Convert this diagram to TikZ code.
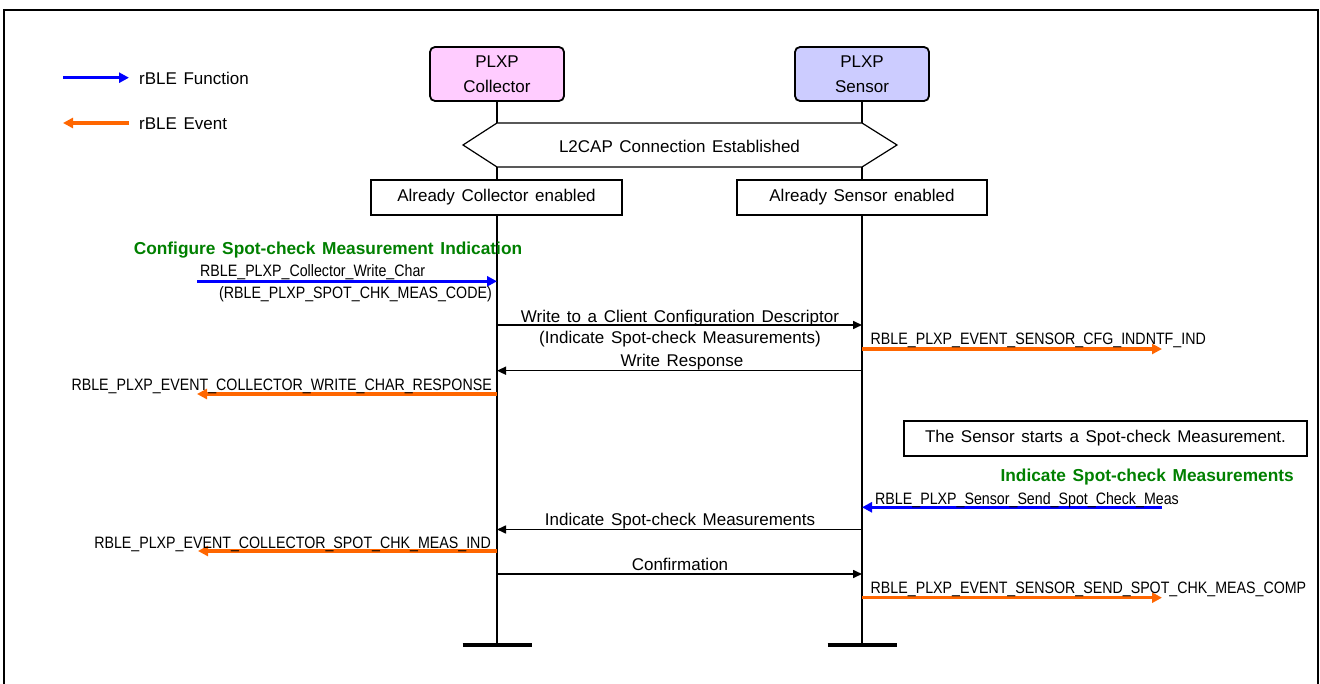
\documentclass[tikz,border=0pt]{standalone}
\usepackage{fontspec}
\setmainfont{Liberation Sans}[WordSpace=1.4]
\newfontfamily\narrowfont{Liberation Sans}[FakeStretch=0.862]
\usetikzlibrary{arrows.meta}
\definecolor{fnblue}{RGB}{0,0,255}
\definecolor{evorange}{RGB}{255,102,0}
\definecolor{titlegreen}{RGB}{0,128,0}
\definecolor{colfill}{RGB}{255,204,255}
\definecolor{senfill}{RGB}{204,204,255}
\begin{document}
\begin{tikzpicture}[x=1pt,y=-1pt,
  every node/.style={inner sep=0pt, font=\fontsize{17}{20}\selectfont},
  txt/.style={font=\fontsize{17}{20}\selectfont},
  lbl/.style={font=\narrowfont\fontsize{16.5}{19}\selectfont},
  title/.style={font=\bfseries\fontsize{17.3}{20}\selectfont, text=titlegreen},
  hdr/.style={draw, line width=1.8pt, rounded corners=5pt, minimum width=134pt,
    minimum height=54pt, align=center, font=\fontsize{17}{25.5}\selectfont},
  note/.style={draw, fill=white, line width=1.2pt, minimum height=35pt},
  lifeline/.style={line width=2.8pt},
  endbar/.style={line width=3.5pt},
  msg/.style={line width=1.6pt, -{Triangle[length=9pt,width=8pt]}},
  fn/.style={draw=fnblue, line width=3.2pt, -{Triangle[length=10pt,width=10pt]}},
  ev/.style={draw=evorange, line width=3.2pt, -{Triangle[length=10pt,width=10pt]}}]
\useasboundingbox (0,0) rectangle (1320,684);

% outer frame
\draw[line width=2pt] (4,690) -- (4,10) -- (1318,10) -- (1318,690);

% legend
\coordinate (lfa) at (63,77.7);
\coordinate (lfb) at (129,77.7);
\coordinate (lea) at (129,123);
\coordinate (leb) at (63,123);
\draw[fn] (lfa) -- (lfb);
\draw[ev] (lea) -- (leb);
\node[txt, anchor=base west] (lgfn) at (139,84.3) {rBLE Function};
\node[txt, anchor=base west] (lgev) at (139,129.3) {rBLE Event};

% participants
\node[hdr, fill=colfill] (col) at (497,74) {PLXP\\Collector};
\node[hdr, fill=senfill] (sen) at (862,74) {PLXP\\Sensor};
\coordinate (colend) at (497,645);
\coordinate (senend) at (862,645);
\draw[lifeline] (col.south) -- (colend);
\draw[lifeline] (sen.south) -- (senend);
\draw[endbar] ([xshift=-34.5pt]colend) -- ([xshift=34.5pt]colend);
\draw[endbar] ([xshift=-34.5pt]senend) -- ([xshift=34.5pt]senend);

% connection established
\draw[line width=1.2pt, fill=white] (463,145) -- (497,123) -- (862,123) -- (897,145)
  -- (862,167) -- (497,167) -- cycle;
\node[txt, anchor=base] (conn) at (679.5,152.3) {L2CAP Connection Established};

% initial states
\node[note, minimum width=251pt] (colok) at (496.5,197.5) {Already Collector enabled};
\node[note, minimum width=250pt] (senok) at (862,197.5) {Already Sensor enabled};

% configure indication
\node[title, anchor=base] (t1) at (328,255) {Configure Spot-check Measurement Indication};
\coordinate (f1a) at (197,281.3);
\coordinate (f1b) at (497,281.3);
\draw[fn] (f1a) -- (f1b);
\node[lbl, anchor=base west] (f1l) at (200,277) {RBLE\_PLXP\_Collector\_Write\_Char};
\node[lbl, anchor=base east] (f1p) at (492,299) {(RBLE\_PLXP\_SPOT\_CHK\_MEAS\_CODE)};

\coordinate (m1a) at (497,325);
\coordinate (m1b) at (862,325);
\draw[msg] (m1a) -- (m1b);
\node[txt, anchor=base] (m1l) at (680,322.3) {Write to a Client Configuration Descriptor};
\node[txt, anchor=base] (m1p) at (680,344) {(Indicate Spot-check Measurements)};

\coordinate (e1a) at (862,349);
\coordinate (e1b) at (1162,349);
\draw[ev] (e1a) -- (e1b);
\node[lbl, anchor=base west] (e1l) at (870.5,344.3) {RBLE\_PLXP\_EVENT\_SENSOR\_CFG\_INDNTF\_IND};

\coordinate (m2a) at (862,370.7);
\coordinate (m2b) at (497,370.7);
\draw[msg] (m2a) -- (m2b);
\node[txt, anchor=base] (m2l) at (682,366.7) {Write Response};

\coordinate (e2a) at (497,394);
\coordinate (e2b) at (197,394);
\draw[ev] (e2a) -- (e2b);
\node[lbl, anchor=base east] (e2l) at (492,390.7) {RBLE\_PLXP\_EVENT\_COLLECTOR\_WRITE\_CHAR\_RESPONSE};

% spot-check measurement
\node[note, minimum width=403pt] (start) at (1105.5,438.5) {The Sensor starts a Spot-check Measurement.};
\node[title, anchor=base east] (t2) at (1294,481) {Indicate Spot-check Measurements};

\coordinate (f2a) at (1162,507.3);
\coordinate (f2b) at (862,507.3);
\draw[fn] (f2a) -- (f2b);
\node[lbl, anchor=base west] (f2l) at (875,504) {RBLE\_PLXP\_Sensor\_Send\_Spot\_Check\_Meas};

\coordinate (m3a) at (862,529.5);
\coordinate (m3b) at (497,529.5);
\draw[msg] (m3a) -- (m3b);
\node[txt, anchor=base] (m3l) at (680,525.5) {Indicate Spot-check Measurements};

\coordinate (e3a) at (497,551);
\coordinate (e3b) at (198,551);
\draw[ev] (e3a) -- (e3b);
\node[lbl, anchor=base east] (e3l) at (491,548.3) {RBLE\_PLXP\_EVENT\_COLLECTOR\_SPOT\_CHK\_MEAS\_IND};

\coordinate (m4a) at (497,574);
\coordinate (m4b) at (862,574);
\draw[msg] (m4a) -- (m4b);
\node[txt, anchor=base] (m4l) at (680,570) {Confirmation};

\coordinate (e4a) at (862,597.7);
\coordinate (e4b) at (1162,597.7);
\draw[ev] (e4a) -- (e4b);
\node[lbl, anchor=base west] (e4l) at (870.5,593) {RBLE\_PLXP\_EVENT\_SENSOR\_SEND\_SPOT\_CHK\_MEAS\_COMP};
\end{tikzpicture}
\end{document}
